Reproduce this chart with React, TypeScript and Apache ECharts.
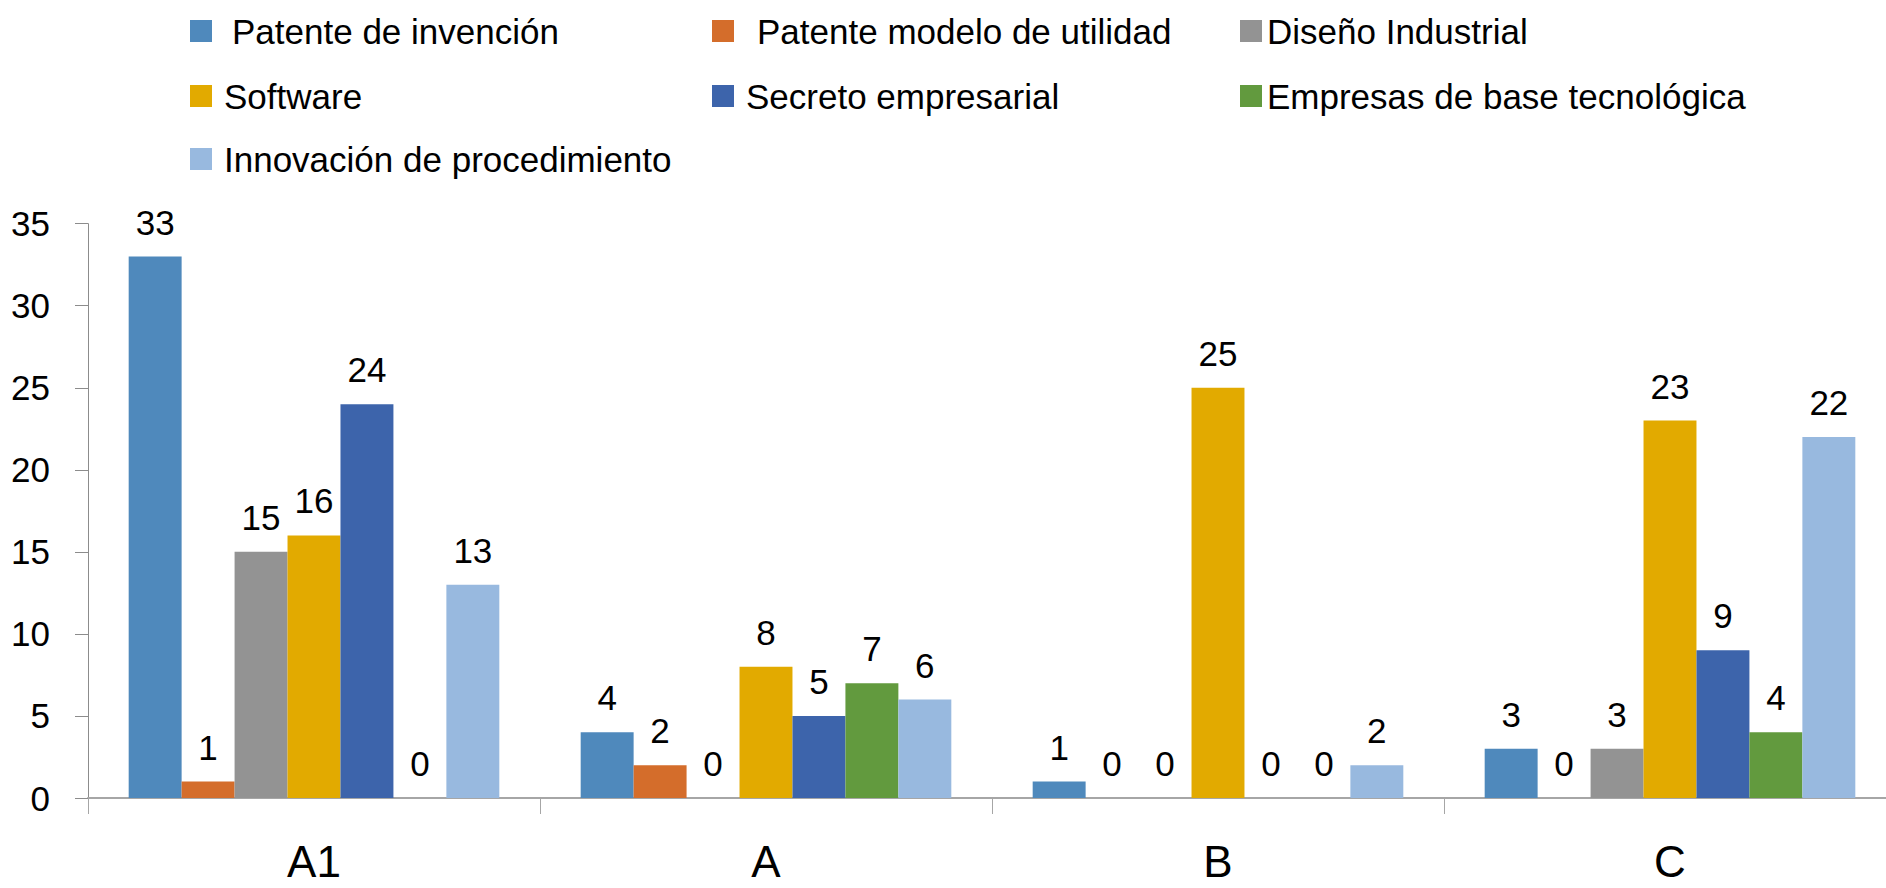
import React, { useEffect, useRef } from "react";
import * as echarts from "echarts";

const categories = ["A1", "A", "B", "C"];
const seriesNames = [
  "Patente de invención",
  "Patente modelo de utilidad",
  "Diseño Industrial",
  "Software",
  "Secreto empresarial",
  "Empresas de base tecnológica",
  "Innovación de procedimiento",
];
const patenteInvencion = [33, 4, 1, 3];
const patenteModelo = [1, 2, 0, 0];
const disenoIndustrial = [15, 0, 0, 3];
const software = [16, 8, 25, 23];
const secreto = [24, 5, 0, 9];
const empresas = [0, 7, 0, 4];
const innovacion = [13, 6, 2, 22];
const seriesValues = [patenteInvencion, patenteModelo, disenoIndustrial, software, secreto, empresas, innovacion];
const colors = ["#4F89BC", "#D46D2B", "#939393", "#E2AA00", "#3D64AB", "#629A3E", "#98B9DF"];

// legend layout: [left of square, center y, text padding-left]
const legendPos: [number, number, number][] = [
  [190, 31, 15],
  [712, 31, 18],
  [1240, 31, 0],
  [190, 96, 7],
  [712, 96, 7],
  [1240, 96, 0],
  [190, 159, 7],
];

export default function App() {
  const ref = useRef<HTMLDivElement>(null);
  useEffect(() => {
    if (!ref.current) return;
    const chart = echarts.init(ref.current, undefined, { renderer: "svg" });
    const font = "'Liberation Sans', Arial, sans-serif";
    chart.setOption({
      animation: false,
      backgroundColor: "#ffffff",
      legend: seriesNames.map((n, i) => ({
        data: [n],
        left: legendPos[i][0],
        top: legendPos[i][1] - 18,
        padding: 0,
        itemWidth: 22,
        itemHeight: 22,
        icon: "rect",
        selectedMode: false,
        textStyle: {
          fontFamily: font,
          fontSize: 35,
          lineHeight: 36,
          color: "#000",
          padding: [0, 0, 0, legendPos[i][2]],
        },
      })),
      grid: { left: 88, right: 0, top: 223.7, bottom: 90 },
      xAxis: {
        type: "category",
        data: categories,
        axisLine: { lineStyle: { color: "#A6A6A6", width: 2 } },
        axisTick: { show: true, length: 16, lineStyle: { color: "#A6A6A6", width: 1 } },
        axisLabel: {
          fontFamily: font,
          fontSize: 44,
          lineHeight: 44,
          color: "#000",
          margin: 41,
        },
      },
      yAxis: {
        type: "value",
        min: 0,
        max: 35,
        interval: 5,
        splitLine: { show: false },
        axisLine: { show: true, lineStyle: { color: "#8C8C8C", width: 1 } },
        axisTick: { show: true, length: 13, lineStyle: { color: "#8C8C8C" } },
        axisLabel: { fontFamily: font, fontSize: 35, color: "#000", margin: 38 },
      },
      series: seriesNames.map((n, i) => ({
        name: n,
        type: "bar",
        data: seriesValues[i],
        barGap: "0%",
        barCategoryGap: "18%",
        itemStyle: { color: colors[i] },
        label: {
          show: true,
          position: "top",
          distance: 17,
          fontFamily: font,
          fontSize: 35,
          lineHeight: 35,
          color: "#000",
        },
      })),
    });
    return () => chart.dispose();
  }, []);
  return (
    <div style={{ position: "absolute", left: 0, top: 0, width: 1886, height: 888, overflow: "hidden", background: "#fff" }}>
      <div ref={ref} style={{ width: 1896, height: 888 }} />
    </div>
  );
}
